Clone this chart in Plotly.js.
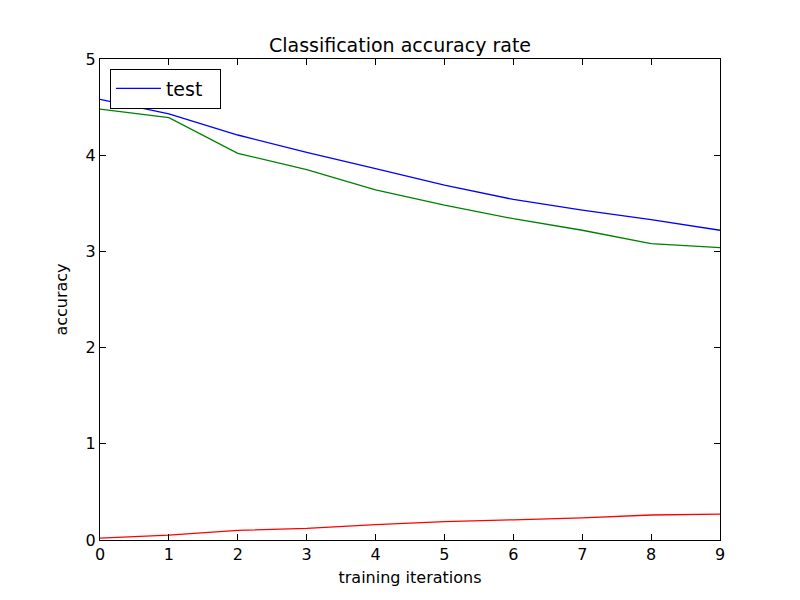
<!DOCTYPE html>
<html>
<head>
<script src="https://cdn.plot.ly/plotly-3.0.1.min.js"></script>
<style>body{margin:0}</style>
</head>
<body>
<div id="myDiv" style="width:800px;height:600px"></div>
<script>
var iterations = [0, 1, 2, 3, 4, 5, 6, 7, 8, 9];
var testAcc = [4.58, 4.43, 4.21, 4.03, 3.86, 3.69, 3.54, 3.43, 3.33, 3.22];
var trainAcc = [4.48, 4.39, 4.02, 3.85, 3.64, 3.48, 3.34, 3.22, 3.08, 3.04];
var lowAcc = [0.02, 0.05, 0.10, 0.12, 0.16, 0.19, 0.21, 0.23, 0.26, 0.27];

var data = [
  { x: iterations, y: testAcc, type: "scatter", mode: "lines", name: "test  ", line: { color: "blue", width: 1.3 } },
  { x: iterations, y: trainAcc, type: "scatter", mode: "lines", showlegend: false, line: { color: "green", width: 1.3 } },
  { x: iterations, y: lowAcc, type: "scatter", mode: "lines", showlegend: false, line: { color: "red", width: 1.3 } }
];

var axisStyle = {
  showgrid: false, zeroline: false, showline: true, mirror: "ticks",
  linecolor: "black", linewidth: 1, ticks: "inside", ticklen: 6, tickcolor: "black",
  tickfont: { size: 16, color: "black" }
};

var layout = {
  width: 800, height: 600,
  margin: { l: 100, r: 80, t: 59, b: 60 },
  paper_bgcolor: "white", plot_bgcolor: "white",
  font: { family: "DejaVu Sans", color: "black" },
  title: { text: "Classification accuracy rate", font: { size: 19 }, x: 0.5, xanchor: "center", y: 0.935 },
  xaxis: Object.assign({}, axisStyle, { range: [0, 9], dtick: 1, title: { text: "training iterations", font: { size: 16 }, standoff: 8 } }),
  yaxis: Object.assign({}, axisStyle, { range: [0, 5], dtick: 1, title: { text: "accuracy", font: { size: 16 }, standoff: 14 } }),
  legend: { x: 0.016, y: 0.98, xanchor: "left", yanchor: "top", bordercolor: "black", borderwidth: 1, bgcolor: "white", font: { size: 19 }, itemwidth: 45 },
  showlegend: true
};

Plotly.newPlot("myDiv", data, layout, { displayModeBar: false });
</script>
</body>
</html>
